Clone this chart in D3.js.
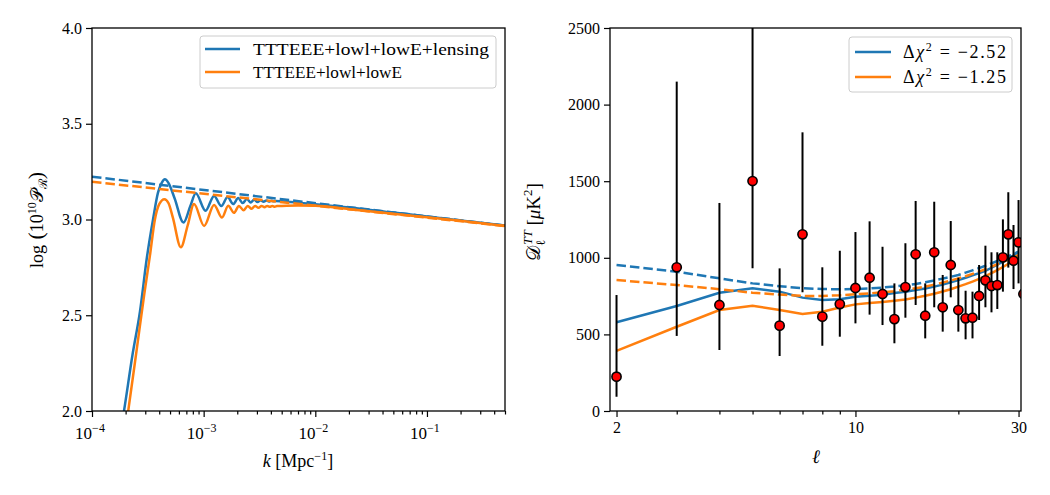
<!DOCTYPE html>
<html><head><meta charset="utf-8">
<script src="https://cdn.jsdelivr.net/npm/d3@7"></script>
<style>body{margin:0;background:#fff}svg{display:block}</style>
</head><body>
<script>
// ---------- DATA ----------
// Left panel: primordial power spectrum
const kBlue = [1.80e-4,1.934e-4,2.30e-4,2.69e-4,3.10e-4,3.52e-4,3.90e-4,4.20e-4,4.50e-4,4.85e-4,5.50e-4,6.60e-4,7.60e-4,8.50e-4,1.04e-3,1.24e-3,1.44e-3,1.64e-3,1.84e-3,2.04e-3,2.24e-3,2.44e-3,2.64e-3,2.84e-3,3.04e-3,3.24e-3,3.44e-3,3.64e-3,3.84e-3,4.04e-3,4.24e-3,4.44e-3,5.0e-3,7.0e-3,1.0e-2,2.0e-2,5.0e-2,0.1,0.2,0.5];
const lnPBlue = [1.89,2.0,2.29,2.52,2.80,3.0,3.14,3.19,3.21,3.19,3.11,2.984,3.07,3.137,3.046,3.123,3.070,3.117,3.081,3.112,3.086,3.107,3.089,3.104,3.091,3.101,3.093,3.099,3.094,3.098,3.095,3.097,3.095,3.088,3.080,3.063,3.036,3.016,2.995,2.968];
const kOrange = [1.95e-4,2.11e-4,2.50e-4,2.94e-4,3.30e-4,3.66e-4,4.0e-4,4.45e-4,4.85e-4,5.30e-4,6.25e-4,7.2e-4,8.2e-4,1.01e-3,1.24e-3,1.46e-3,1.66e-3,1.87e-3,2.07e-3,2.28e-3,2.48e-3,2.69e-3,2.89e-3,3.10e-3,3.30e-3,3.51e-3,3.71e-3,3.92e-3,4.12e-3,4.33e-3,4.53e-3,5.0e-3,7.0e-3,1.0e-2,2.0e-2,5.0e-2,0.1,0.2,0.5];
const lnPOrange = [1.86,2.0,2.31,2.61,2.81,3.0,3.08,3.106,3.085,3.01,2.855,2.97,3.081,2.966,3.076,3.010,3.072,3.035,3.071,3.048,3.071,3.056,3.071,3.061,3.071,3.064,3.071,3.066,3.071,3.067,3.070,3.071,3.073,3.072,3.054,3.030,3.012,2.993,2.967];
const kDash = [1e-4, 0.5];
const lnPBlueDash = [3.2235, 2.968];
const lnPOrangeDash = [3.197, 2.966];

// Right panel: TT spectrum at low ell
const ellModel = [2,3,4,5,6,7,8,9,10,11,12,13,14,15,16,17,18,19,20,21,22,23,24,25,26,27,28,29,30];
const blueSolid = [579,685,772,801,779,740,725,729,746,752,758,770,778,790,800,812,825,840,855,870,885,900,915,935,955,975,995,1015,1040];
const blueDashed = [953,909,866,833,815,801,796,795,796,800,806,813,821,829,840,852,864,876,888,903,918,933,948,964,979,995,1010,1025,1040];
const orangeSolid = [392,550,659,687,659,633,648,675,696,705,712,720,728,740,752,765,780,795,812,828,845,862,880,900,920,940,960,980,1005];
const orangeDashed = [855,822,795,772,760,751,751,755,762,768,775,782,791,801,812,825,838,852,866,880,895,910,925,942,958,973,988,1003,1018];

const ellData = [2,3,4,5,6,7,8,9,10,11,12,13,14,15,16,17,18,19,20,21,22,23,24,25,26,27,28,29,30,31];
const dlData  = [224,938,692,1501,557,1153,616,698,803,870,764,600,809,1023,622,1036,677,953,659,605,609,751,853,816,822,1003,1153,981,1101,764];
const dlLow   = [93,490,398,931,359,775,426,485,572,629,561,442,609,692,474,677,518,742,518,468,474,594,677,644,666,779,936,796,833,600];
const dlHigh  = [757,2150,1358,2700,931,1819,938,1046,1168,1238,1072,833,1095,1371,833,1366,888,1240,870,785,779,953,1079,1036,1036,1251,1428,1214,1377,960];

const leftYTicks = [2.0,2.5,3.0,3.5,4.0];
const leftXTicks = [-4,-3,-2,-1];
const rightYTicks = [0,500,1000,1500,2000,2500];
const rightXTicks = [2,10,30];
const rightXMinor = [3,4,5,6,7,8,9,20];
const legendLeft = ["TTTEEE+lowl+lowE+lensing","TTTEEE+lowl+lowE"];
const legendRight = ["−2.52","−1.25"];

// ---------- STYLE ----------
const BLUE = "#1f77b4", ORANGE = "#ff7f0e";
const FONT = "'Liberation Serif','DejaVu Serif',serif";
const DASH = "9.5,4";
const W = 1050, H = 495;
const svg = d3.select("body").append("svg").attr("width", W).attr("height", H)
  .style("font-family", FONT);

function addMath(text, parts, base) {
  let cur = 0;
  parts.forEach(p => {
    const sh = p.sh || 0;
    const ts = text.append("tspan").text(p.t)
      .attr("dy", sh - cur)
      .attr("font-size", p.fs || base)
      .attr("font-style", p.it ? "italic" : "normal");
    if (p.dx) ts.attr("dx", p.dx);
    cur = sh;
  });
}

const yTop = 28, yBot = 411;
const defs = svg.append("defs");

// ================= LEFT PANEL =================
const L = {x0: 92, x1: 505};
const xL = d3.scaleLog().domain([1e-4, 0.5]).range([L.x0, L.x1]);
const yL = d3.scaleLinear().domain([2, 4]).range([yBot, yTop]);
defs.append("clipPath").attr("id", "clipL").append("rect")
  .attr("x", L.x0).attr("y", yTop).attr("width", L.x1 - L.x0).attr("height", yBot - yTop);
const gL = svg.append("g");
const lineL = d3.line().x(d => xL(d[0])).y(d => yL(d[1])).curve(d3.curveMonotoneX);
const lineStraightL = d3.line().x(d => xL(d[0])).y(d => yL(d[1]));
const plotL = gL.append("g").attr("clip-path", "url(#clipL)");
plotL.append("path").datum(d3.zip(kBlue, lnPBlue)).attr("d", lineL)
  .attr("fill", "none").attr("stroke", BLUE).attr("stroke-width", 2.5);
plotL.append("path").datum(d3.zip(kDash, lnPBlueDash)).attr("d", lineStraightL)
  .attr("fill", "none").attr("stroke", BLUE).attr("stroke-width", 2.5).attr("stroke-dasharray", DASH);
plotL.append("path").datum(d3.zip(kOrange, lnPOrange)).attr("d", lineL)
  .attr("fill", "none").attr("stroke", ORANGE).attr("stroke-width", 2.5);
plotL.append("path").datum(d3.zip(kDash, lnPOrangeDash)).attr("d", lineStraightL)
  .attr("fill", "none").attr("stroke", ORANGE).attr("stroke-width", 2.5).attr("stroke-dasharray", DASH);

// left axes
gL.append("g").attr("transform", `translate(${L.x0},0)`)
  .call(d3.axisLeft(yL).tickValues(leftYTicks).tickFormat(d3.format(".1f")).tickSize(6).tickPadding(4));
const minorL = [];
for (let e = -4; e <= -1; e++) for (let m = 2; m <= 9; m++) { const v = m * Math.pow(10, e); if (v <= 0.5) minorL.push(v); }
gL.append("g").attr("transform", `translate(0,${yBot})`)
  .call(d3.axisBottom(xL).tickValues(minorL).tickFormat("").tickSize(3.5));
gL.append("g").attr("transform", `translate(0,${yBot})`)
  .call(d3.axisBottom(xL).tickValues(leftXTicks.map(e => Math.pow(10, e))).tickFormat("").tickSize(6));
leftXTicks.forEach(e => {
  const t = gL.append("text").attr("x", xL(Math.pow(10, e)) - 2).attr("y", 439)
    .attr("text-anchor", "middle").attr("fill", "#000");
  addMath(t, [{t: "10"}, {t: "−" + (-e), sh: -7, fs: 12}], 17);
});
gL.append("rect").attr("x", L.x0).attr("y", yTop).attr("width", L.x1 - L.x0).attr("height", yBot - yTop)
  .attr("fill", "none").attr("stroke", "#000").attr("stroke-width", 1.3);

const xlabL = gL.append("text").attr("x", 298).attr("y", 467).attr("text-anchor", "middle");
addMath(xlabL, [{t: "k", it: true}, {t: " [Mpc"}, {t: "−1", sh: -7, fs: 12}, {t: "]"}], 18);
const ylabL = gL.append("text").attr("transform", "translate(43,220) rotate(-90)").attr("text-anchor", "middle");
addMath(ylabL, [{t: "log"}, {t: " (", fs: 22}, {t: "10"}, {t: "10", sh: -7, fs: 12}, {t: "𝒫"}, {t: "ℛ", sh: 4, fs: 12}, {t: ")", fs: 22}], 18);

const lgL = gL.append("g");
lgL.append("rect").attr("x", 200).attr("y", 36).attr("width", 296).attr("height", 52).attr("rx", 3)
  .attr("fill", "#fff").attr("fill-opacity", 0.8).attr("stroke", "#cccccc").attr("stroke-width", 1);
[BLUE, ORANGE].forEach((c, i) => {
  const y = 49 + i * 23;
  lgL.append("line").attr("x1", 205).attr("x2", 240).attr("y1", y).attr("y2", y).attr("stroke", c).attr("stroke-width", 2.5);
  lgL.append("text").attr("x", 253).attr("y", y + 6).attr("font-size", 17).text(legendLeft[i])
    .attr("textLength", i === 0 ? 236 : 149).attr("lengthAdjust", "spacingAndGlyphs");
});

// ================= RIGHT PANEL =================
const R = {x0: 610, x1: 1021};
const xR = d3.scaleLog().domain([1.914, 30.5]).range([R.x0, R.x1]);
const yR = d3.scaleLinear().domain([0, 2500]).range([yBot, yTop]);
defs.append("clipPath").attr("id", "clipR").append("rect")
  .attr("x", R.x0).attr("y", yTop).attr("width", R.x1 - R.x0).attr("height", yBot - yTop);
const gR = svg.append("g");
const plotR = gR.append("g").attr("clip-path", "url(#clipR)");
const lineR = d3.line().x(d => xR(d[0])).y(d => yR(d[1]));
[[blueSolid, BLUE, null], [blueDashed, BLUE, DASH], [orangeSolid, ORANGE, null], [orangeDashed, ORANGE, DASH]]
  .forEach(([vals, c, dash]) => {
    const p = plotR.append("path").datum(d3.zip(ellModel, vals)).attr("d", lineR)
      .attr("fill", "none").attr("stroke", c).attr("stroke-width", 2.5);
    if (dash) p.attr("stroke-dasharray", dash);
  });
const pts = ellData.map((l, i) => ({l, d: dlData[i], lo: dlLow[i], hi: dlHigh[i]}));
plotR.selectAll("line.err").data(pts).join("line").attr("class", "err")
  .attr("x1", d => xR(d.l)).attr("x2", d => xR(d.l))
  .attr("y1", d => yR(d.lo)).attr("y2", d => yR(d.hi))
  .attr("stroke", "#000").attr("stroke-width", 2);
plotR.selectAll("circle").data(pts).join("circle")
  .attr("cx", d => xR(d.l)).attr("cy", d => yR(d.d)).attr("r", 4.6)
  .attr("fill", "#ff0000").attr("stroke", "#000").attr("stroke-width", 1.6);

gR.append("g").attr("transform", `translate(${R.x0},0)`)
  .call(d3.axisLeft(yR).tickValues(rightYTicks).tickFormat(d3.format("d")).tickSize(6).tickPadding(4));
gR.append("g").attr("transform", `translate(0,${yBot})`)
  .call(d3.axisBottom(xR).tickValues(rightXMinor).tickFormat("").tickSize(3.5));
gR.append("g").attr("transform", `translate(0,${yBot})`)
  .call(d3.axisBottom(xR).tickValues(rightXTicks).tickFormat(d3.format("d")).tickSize(6).tickPadding(5));
gR.append("rect").attr("x", R.x0).attr("y", yTop).attr("width", R.x1 - R.x0).attr("height", yBot - yTop)
  .attr("fill", "none").attr("stroke", "#000").attr("stroke-width", 1.3);

const xlabR = gR.append("text").attr("x", 816).attr("y", 463).attr("text-anchor", "middle");
addMath(xlabR, [{t: "ℓ", it: true}], 19);
const ylabR = gR.append("text").attr("transform", "translate(540,222) rotate(-90)").attr("text-anchor", "middle");
addMath(ylabR, [{t: "𝒟"}, {t: "ℓ", sh: 5, fs: 13}, {t: "TT", sh: -8, fs: 13, it: true, dx: -5}, {t: " [", fs: 19}, {t: "μ", it: true}, {t: "K"}, {t: "2", sh: -8, fs: 13}, {t: "]", fs: 19}], 19);

const lgR = gR.append("g");
lgR.append("rect").attr("x", 849).attr("y", 37).attr("width", 163).attr("height", 55).attr("rx", 3)
  .attr("fill", "#fff").attr("fill-opacity", 0.8).attr("stroke", "#cccccc").attr("stroke-width", 1);
[BLUE, ORANGE].forEach((c, i) => {
  const y = 52 + i * 25;
  lgR.append("line").attr("x1", 855).attr("x2", 891).attr("y1", y).attr("y2", y).attr("stroke", c).attr("stroke-width", 2.5);
  const t = lgR.append("text").attr("x", 903).attr("y", y + 6).attr("font-family", "'Liberation Serif',serif");
  addMath(t, [{t: "Δ"}, {t: "χ", it: true}, {t: "2", sh: -7, fs: 12}, {t: "  =  " + legendRight[i]}], 18);
  t.attr("textLength", 103).attr("lengthAdjust", "spacing");
});

svg.selectAll(".tick text").attr("font-size", 16).attr("font-family", FONT).attr("fill", "#000");
svg.selectAll(".tick line").attr("stroke", "#000").attr("stroke-width", 1.2);
svg.selectAll(".domain").remove();
</script>
</body></html>
